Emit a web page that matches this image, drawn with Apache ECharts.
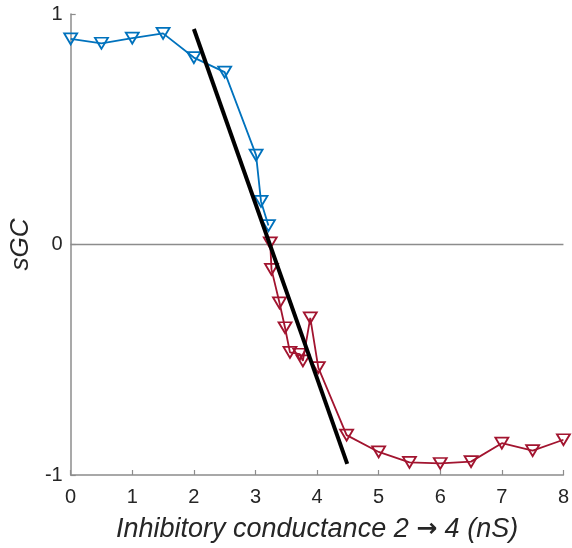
<!DOCTYPE html>
<html>
<head>
<meta charset="utf-8">
<script src="https://cdn.jsdelivr.net/npm/echarts@6/dist/echarts.min.js"></script>
<style>html,body{margin:0;padding:0;background:#fff}#c{width:572px;height:548px}</style>
</head>
<body>
<div id="c"></div>
<script>
var blueX = [0, 0.5, 1, 1.5, 2, 2.5, 3.01, 3.09, 3.21];
var blueY = [0.892, 0.873, 0.895, 0.916, 0.811, 0.748, 0.388, 0.187, 0.082];
var redX = [3.24, 3.26, 3.39, 3.48, 3.56, 3.72, 3.77, 3.89, 4.02, 4.48, 5.0, 5.5, 6.0, 6.5, 7.0, 7.5, 8.0];
var redY = [0.007, -0.108, -0.253, -0.361, -0.468, -0.476, -0.505, -0.318, -0.534, -0.827, -0.90, -0.945, -0.95, -0.942, -0.862, -0.894, -0.847];
var fitX = [2.0, 4.49];
var fitY = [0.935, -0.952];
var zeroX = [0, 8];
var zeroY = [0, 0];
var xTicks = [0, 1, 2, 3, 4, 5, 6, 7, 8];
var yTicks = [-1, 0, 1];

function pairs(xs, ys) { return xs.map(function (x, i) { return [x, ys[i]]; }); }

var FONT = "'Liberation Sans', Arial, Helvetica, sans-serif";
var axisGray = '#8c8c8c';
var textCol = '#262626';

var chart = echarts.init(document.getElementById('c'), null, { renderer: 'canvas' });
var markerStyle = function (c) {
  return {
    type: 'line',
    symbol: 'triangle',
    symbolRotate: 180,
    symbolSize: [13, 11],
    lineStyle: { color: c, width: 1.8 },
    itemStyle: { color: 'rgba(0,0,0,0)', borderColor: c, borderWidth: 1.8 },
    emphasis: { disabled: true },
    silent: true,
    z: 3
  };
};
var blue = markerStyle('#0072BD'); blue.data = pairs(blueX, blueY);
var red = markerStyle('#A2142F'); red.data = pairs(redX, redY);

chart.setOption({
  animation: false,
  backgroundColor: '#fff',
  grid: { left: 68, right: 6, top: 14, bottom: 72, containLabel: false },
  xAxis: {
    type: 'value', min: xTicks[0], max: xTicks[xTicks.length - 1], interval: 1,
    name: 'Inhibitory conductance 2 {arr|\u2192} 4 (nS)',
    nameLocation: 'middle', nameGap: 41,
    nameTextStyle: {
      fontFamily: FONT, fontSize: 27, fontStyle: 'italic', color: textCol,
      rich: { arr: { fontFamily: "'DejaVu Sans', sans-serif", fontWeight: 'bold', fontSize: 25, color: textCol } }
    },
    axisLine: { show: true, onZero: false, lineStyle: { color: axisGray, width: 1.5 } },
    axisTick: { show: true, inside: true, length: 5, lineStyle: { color: axisGray, width: 1.2 } },
    axisLabel: { fontFamily: FONT, fontSize: 20, color: textCol, margin: 12 },
    splitLine: { show: false }
  },
  yAxis: {
    type: 'value', min: yTicks[0], max: yTicks[yTicks.length - 1], interval: 1,
    name: 'sGC',
    nameLocation: 'middle', nameGap: 30,
    nameTextStyle: { fontFamily: FONT, fontSize: 26, fontStyle: 'italic', color: textCol },
    axisLine: { show: true, onZero: false, lineStyle: { color: axisGray, width: 1.5 } },
    axisTick: { show: true, inside: true, length: 5, lineStyle: { color: axisGray, width: 1.2 } },
    axisLabel: { fontFamily: FONT, fontSize: 20, color: textCol, margin: 8 },
    splitLine: { show: false }
  },
  series: [
    { type: 'line', data: pairs(zeroX, zeroY), symbol: 'none', silent: true, z: 1,
      lineStyle: { color: '#8c8c8c', width: 1.5 } },
    blue,
    red,
    { type: 'line', data: pairs(fitX, fitY), symbol: 'none', silent: true, z: 5,
      lineStyle: { color: '#000', width: 4 } }
  ]
});
</script>
</body>
</html>
